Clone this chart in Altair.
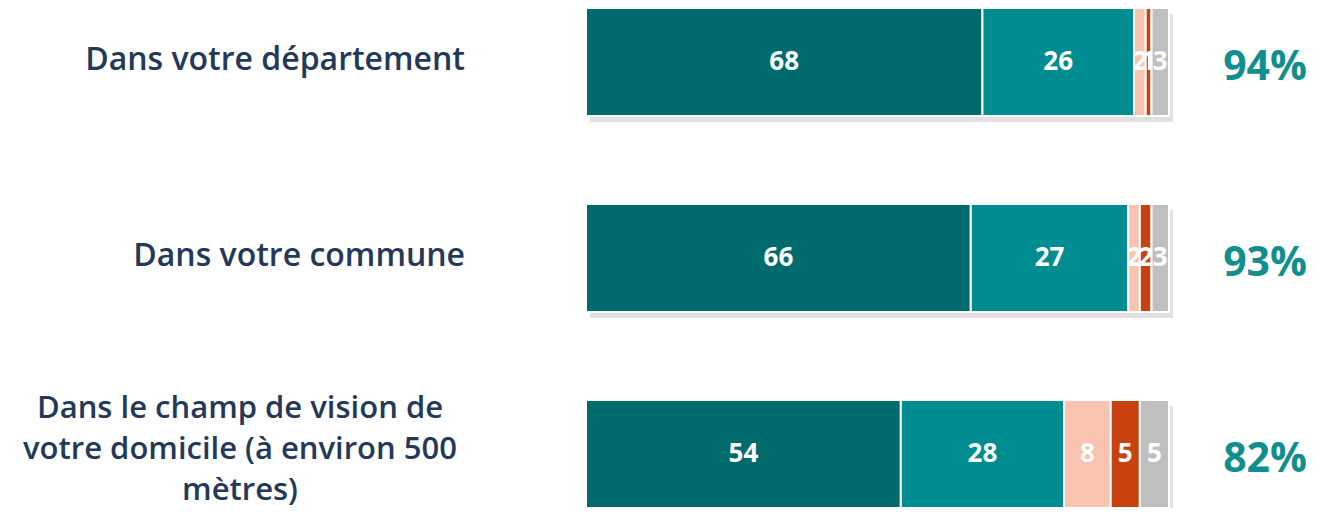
import altair as alt
import pandas as pd

categories = ["Dans votre département", "Dans votre commune",
              "Dans le champ de vision de\nvotre domicile (à environ 500\nmètres)"]
series = ["s1", "s2", "s3", "s4", "s5"]
values = [
    [68, 26, 2, 1, 3],
    [66, 27, 2, 2, 3],
    [54, 28, 8, 5, 5],
]
totals = ["94%", "93%", "82%"]
colors = ["#006B6D", "#008D91", "#F8C3AF", "#C9410F", "#BFBFBF"]

rows = []
for ci, cat in enumerate(categories):
    for si, s in enumerate(series):
        rows.append({"cat": cat, "series": s, "order": si, "value": values[ci][si]})
df = pd.DataFrame(rows)
tot_df = pd.DataFrame({"cat": categories, "total": totals,
                       "wrapped": [c.find("\n") >= 0 for c in categories]})
cat_df = pd.DataFrame({"cat": categories, "sum": [sum(v) for v in values]})

y = alt.Y("cat:N", sort=categories, axis=None,
          scale=alt.Scale(paddingInner=0.449, paddingOuter=0))
x_scale = alt.Scale(domain=[0, 100], nice=False, zero=True)

shadow = alt.Chart(cat_df).mark_bar(color="#9a9a9a", opacity=0.3, xOffset=4, yOffset=6).encode(
    y=y, x=alt.X("sum:Q", scale=x_scale, axis=None))

base = alt.Chart(df).transform_stack(
    stack="value", groupby=["cat"], as_=["x0", "x1"], sort=[alt.SortField("order")]
).transform_calculate(mid="(datum.x0 + datum.x1) / 2")

bars = base.mark_bar(stroke="white", strokeWidth=2).encode(
    y=y,
    x=alt.X("x0:Q", scale=x_scale, axis=None),
    x2="x1:Q",
    color=alt.Color("series:N", scale=alt.Scale(domain=series, range=colors), legend=None),
)

vals = base.mark_text(color="white", fontSize=26, fontWeight="bold", font="Open Sans").encode(
    y=y, x=alt.X("mid:Q", scale=x_scale), text="value:Q")

lab_right = alt.Chart(tot_df).transform_filter("!datum.wrapped").mark_text(
    align="right", fontSize=32, fontWeight=600, font="Open Sans", color="#24395A", dy=-2
).encode(y=y, x=alt.value(-121), text="cat:N")

lab_center = alt.Chart(tot_df).transform_filter("datum.wrapped").transform_calculate(
    lines="split(datum.cat, '\\n')"
).mark_text(
    align="center", fontSize=31, fontWeight=600, font="Open Sans", color="#24395A",
    lineHeight=41, dy=-45
).encode(y=y, x=alt.value(-346), text="lines:N")

pct = alt.Chart(tot_df).mark_text(
    align="right", fontSize=41, fontWeight="bold", font="Open Sans", color="#118F8F", dy=6
).encode(y=y, x=alt.value(721), text="total:N")

chart = alt.layer(shadow, bars, vals, lab_right, lab_center, pct).properties(
    width=583, height=500,
    autosize=alt.AutoSizeParams(type="none"),
    padding={"left": 578, "top": 0, "right": 140, "bottom": 0},
).configure_view(stroke=None)

chart.save("out.html", embed_options={"renderer": "svg", "actions": False})
